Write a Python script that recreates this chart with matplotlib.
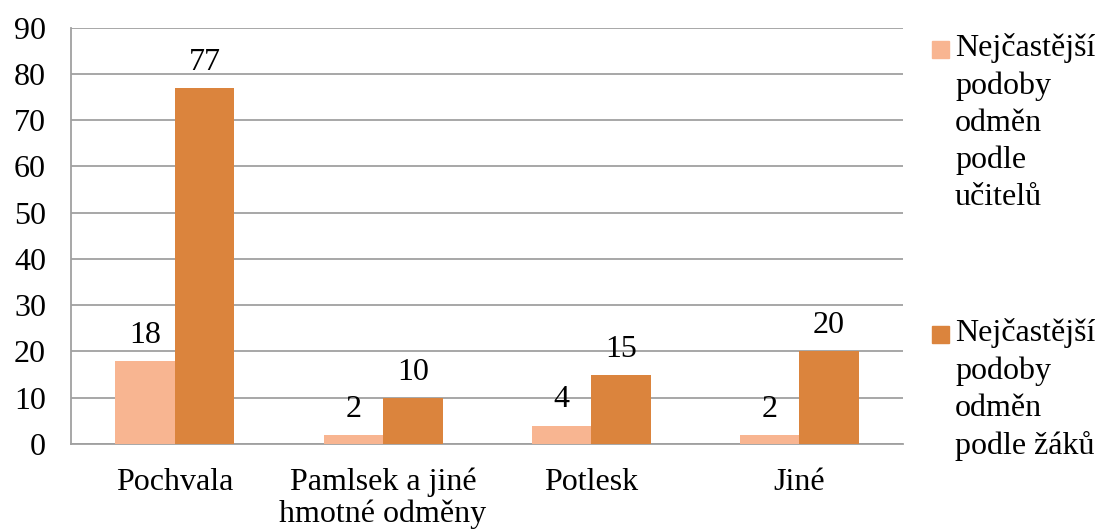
import numpy as np
import matplotlib.pyplot as plt
from matplotlib.patches import Rectangle

plt.rcParams['font.family'] = ['Liberation Serif', 'DejaVu Serif']

kategorie = ['Pochvala', 'Pamlsek a jiné\nhmotné odměny', 'Potlesk', 'Jiné']
ucitele = [18, 2, 4, 2]
zaci = [77, 10, 15, 20]
popisky = ['Nejčastější\npodoby\nodměn\npodle\nučitelů',
           'Nejčastější\npodoby\nodměn\npodle žáků']
barvy = ['#F8B591', '#DB843D']

fig = plt.figure(figsize=(11, 5.32), dpi=100)
ax = fig.add_axes([0.0645, 0.1654, 0.7565, 0.7826])

x = np.arange(len(kategorie))
sirka = 0.286
for i, (hodnoty, barva) in enumerate(zip([ucitele, zaci], barvy)):
    pozice = x + (i - 0.5) * sirka
    sloupce = ax.bar(pozice, hodnoty, width=sirka, color=barva, zorder=3)
    for s, h in zip(sloupce, hodnoty):
        ax.annotate(str(h), (s.get_x() + s.get_width() / 2, h),
                    xytext=(0, 8), textcoords='offset points',
                    ha='center', va='bottom', fontsize=23)

ax.set_xlim(-0.5, len(kategorie) - 0.5)
ax.set_ylim(0, 90)
ax.set_yticks(range(0, 91, 10))
ax.set_xticks(x)
ax.set_xticklabels(kategorie, fontsize=23, linespacing=1.12)
ax.tick_params(axis='y', labelsize=23, length=0, pad=18)
ax.tick_params(axis='x', length=0, pad=17)
ax.grid(axis='y', color='#A0A0A0', linewidth=1.3, zorder=0)
for strana in ['top', 'right']:
    ax.spines[strana].set_visible(False)
ax.spines['left'].set_color('#A0A0A0')
ax.spines['left'].set_linewidth(1.3)
ax.spines['bottom'].set_color('#A0A0A0')
ax.spines['bottom'].set_linewidth(1.3)

# legenda vpravo
W, H = 1100, 532
for popis, barva, y_top in zip(popisky, barvy, [33, 318]):
    fig.patches.append(Rectangle((932 / W, 1 - (y_top + 25) / H), 17 / W, 17 / H,
                                 transform=fig.transFigure, color=barva))
    fig.text(955 / W, 1 - y_top / H, popis, fontsize=23, va='top', ha='left',
             linespacing=1.36)

fig.savefig('out.png', dpi=100)
